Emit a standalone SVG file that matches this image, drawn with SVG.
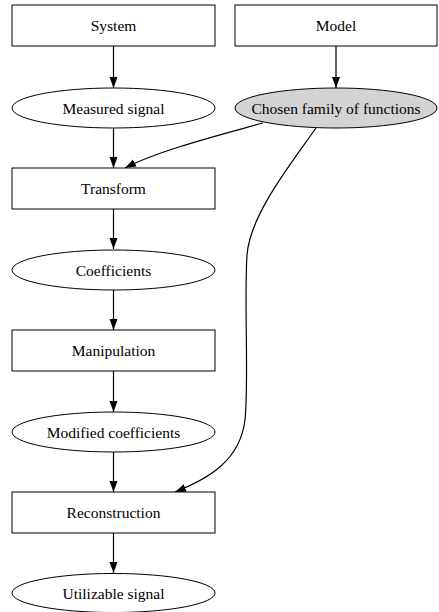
<svg xmlns="http://www.w3.org/2000/svg" width="439" height="612" viewBox="0 0 439 612">
<defs>
<style>
.n{fill:#fff;stroke:#000;stroke-width:1}
.g{fill:#d3d3d3;stroke:#000;stroke-width:1}
text{font-family:"Liberation Serif","Times New Roman",serif;font-size:15.5px;text-anchor:middle;fill:#000}
.e{fill:none;stroke:#000;stroke-width:1.2}
</style>
<marker id="ah" markerWidth="11" markerHeight="10" viewBox="0 0 11 10" refX="11" refY="5" orient="auto" markerUnits="userSpaceOnUse">
<path d="M0,1 L11,5 L0,9 Z" fill="#000"/>
</marker>
</defs>
<rect width="439" height="612" fill="#fff"/>
<g id="edges">
<line class="e" x1="113.5" y1="46" x2="113.5" y2="88" marker-end="url(#ah)"/>
<line class="e" x1="336" y1="46" x2="336" y2="88" marker-end="url(#ah)"/>
<line class="e" x1="113.5" y1="128" x2="113.5" y2="168" marker-end="url(#ah)"/>
<path class="e" d="M263,123 C220,135 160,150 125,168" marker-end="url(#ah)"/>
<line class="e" x1="113.5" y1="209" x2="113.5" y2="249" marker-end="url(#ah)"/>
<line class="e" x1="113.5" y1="290" x2="113.5" y2="330" marker-end="url(#ah)"/>
<line class="e" x1="113.5" y1="371" x2="113.5" y2="412" marker-end="url(#ah)"/>
<line class="e" x1="113.5" y1="452" x2="113.5" y2="492" marker-end="url(#ah)"/>
<line class="e" x1="113.5" y1="533" x2="113.5" y2="573" marker-end="url(#ah)"/>
<path class="e" d="M316,128 C290,165 250,215 247,255 C244,300 249,380 245,420 C240,460 210,478 175,492" marker-end="url(#ah)"/>
</g>
<g id="system"><rect class="n" x="12" y="5" width="203" height="41"/><text x="113.5" y="31">System</text></g>
<g id="model"><rect class="n" x="235" y="5" width="202" height="41"/><text x="336" y="31">Model</text></g>
<g id="measured"><ellipse class="n" cx="113.5" cy="108" rx="101.5" ry="20"/><text x="113.5" y="113.5">Measured signal</text></g>
<g id="chosen"><ellipse class="g" cx="336" cy="108" rx="101" ry="20"/><text x="336" y="113.5">Chosen family of functions</text></g>
<g id="transform"><rect class="n" x="12" y="168" width="203" height="41"/><text x="113.5" y="194">Transform</text></g>
<g id="coefficients"><ellipse class="n" cx="113.5" cy="270" rx="101.5" ry="20"/><text x="113.5" y="275.5">Coefficients</text></g>
<g id="manipulation"><rect class="n" x="12" y="330" width="203" height="41"/><text x="113.5" y="356">Manipulation</text></g>
<g id="modified"><ellipse class="n" cx="113.5" cy="432" rx="101.5" ry="20"/><text x="113.5" y="437.5">Modified coefficients</text></g>
<g id="reconstruction"><rect class="n" x="12" y="492" width="203" height="41"/><text x="113.5" y="518">Reconstruction</text></g>
<g id="utilizable"><ellipse class="n" cx="113.5" cy="593" rx="101.5" ry="19.5"/><text x="113.5" y="598.5">Utilizable signal</text></g>
</svg>
